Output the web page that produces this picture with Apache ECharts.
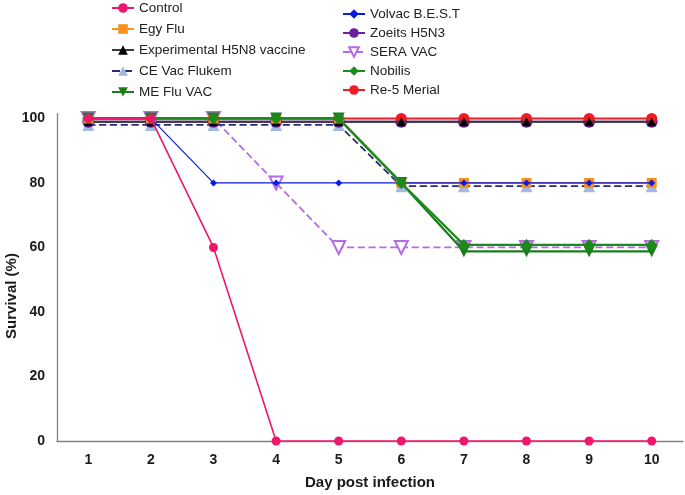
<!DOCTYPE html>
<html>
<head>
<meta charset="utf-8">
<script src="https://cdn.jsdelivr.net/npm/echarts@6/dist/echarts.min.js"></script>
<style>
html,body{margin:0;padding:0;background:#fff;}
#main{width:685px;height:495px;}
</style>
</head>
<body>
<div id="main"></div>
<script>
var days = ['1','2','3','4','5','6','7','8','9','10'];
var yTicks = [0, 20, 40, 60, 80, 100];

var control      = [100, 100, 60, 0, 0, 0, 0, 0, 0, 0];
var egyFlu       = [100, 100, 100, 100, 100, 80, 80, 80, 80, 80];
var experimental = [99, 99, 99, 99, 99, 99, 99, 99, 99, 99];
var ceVac        = [98, 98, 98, 98, 98, 79, 79, 79, 79, 79];
var meFlu        = [100, 100, 100, 100, 100, 80, 58.8, 58.8, 58.8, 58.8];
var volvac       = [100, 100, 80, 80, 80, 80, 80, 80, 80, 80];
var zoeits       = [99, 99, 99, 99, 99, 99, 99, 99, 99, 99];
var seraVac      = [100, 100, 100, 80, 60, 60, 60, 60, 60, 60];
var nobilis      = [100, 100, 100, 100, 100, 80, 60.8, 60.8, 60.8, 60.8];
var re5          = [100, 100, 100, 100, 100, 100, 100, 100, 100, 100];

var FONT = 'Liberation Sans, Arial, sans-serif';

function mk(name, data, color, symbol, size, opts) {
  opts = opts || {};
  return {
    name: name,
    type: 'line',
    data: data,
    symbol: symbol,
    symbolSize: size,
    symbolRotate: opts.rotate || 0,
    showAllSymbol: true,
    z: opts.z || 2,
    lineStyle: {color: opts.lineColor || color, width: opts.width || 2, type: opts.dash ? 'dashed' : 'solid'},
    itemStyle: {color: opts.fill || color, borderColor: opts.border || color, borderWidth: opts.bw || 0},
    emphasis: {disabled: true}
  };
}

var series = [
  mk('SERA VAC', seraVac, '#b56be3', 'triangle', 13, {rotate: 180, dash: true, width: 1.8, fill: '#ffffff', border: '#b56be3', bw: 2, z: 2}),
  mk('CE Vac Flukem', ceVac, '#2a2a78', 'triangle', 12, {dash: true, width: 1.8, fill: '#a4b9df', border: '#a4b9df', bw: 0, z: 3}),
  mk('Zoeits H5N3', zoeits, '#6b1f9c', 'circle', 12, {z: 4}),
  mk('Re-5 Merial', re5, '#ee1c25', 'circle', 11, {z: 5}),
  mk('Experimental H5N8 vaccine', experimental, '#3a3a3a', 'triangle', 9, {fill: '#000000', z: 6}),
  mk('Egy Flu', egyFlu, '#f7901e', 'rect', 10, {z: 7}),
  mk('Volvac B.E.S.T', volvac, '#0a1ae6', 'diamond', 7, {width: 1.2, z: 8}),
  mk('ME Flu VAC', meFlu, '#1b7d1b', 'triangle', 12, {rotate: 180, width: 2.2, z: 9}),
  mk('Nobilis', nobilis, '#1e8a1e', 'diamond', 12, {width: 2.2, z: 10}),
  mk('Control', control, '#f0166e', 'circle', 9, {width: 1.6, z: 11})
];

var chart = echarts.init(document.getElementById('main'));
chart.setOption({
  animation: false,
  backgroundColor: '#ffffff',
  textStyle: {fontFamily: FONT},
  legend: [
    {
      data: ['Control', 'Egy Flu', 'Experimental H5N8 vaccine', 'CE Vac Flukem', 'ME Flu VAC'],
      orient: 'vertical', left: 106, top: -4,
      itemWidth: 22, itemHeight: 12, itemGap: 7,
      textStyle: {fontSize: 13.5, color: '#222', fontFamily: FONT},
      selectedMode: false
    },
    {
      data: ['Volvac B.E.S.T', 'Zoeits H5N3', 'SERA VAC', 'Nobilis', 'Re-5 Merial'],
      orient: 'vertical', left: 337, top: 2,
      itemWidth: 22, itemHeight: 12, itemGap: 5,
      textStyle: {fontSize: 13.5, color: '#222', fontFamily: FONT},
      selectedMode: false
    }
  ],
  grid: {left: 57, right: 2, top: 113.6, bottom: 51, containLabel: false},
  xAxis: {
    type: 'category',
    data: days,
    boundaryGap: true,
    axisLine: {lineStyle: {color: '#808080', width: 1.3}},
    axisTick: {show: false},
    axisLabel: {fontSize: 14, fontWeight: 'bold', color: '#1a1a1a', margin: 12, fontFamily: FONT},
    name: 'Day post infection',
    nameLocation: 'middle',
    nameGap: 34,
    nameTextStyle: {fontSize: 15, fontWeight: 'bold', color: '#1a1a1a', fontFamily: FONT}
  },
  yAxis: {
    type: 'value',
    min: 0, max: 101.5, interval: 20,
    axisLine: {show: true, lineStyle: {color: '#808080', width: 1.3}},
    axisTick: {show: false},
    splitLine: {show: false},
    axisLabel: {
      fontSize: 14, fontWeight: 'bold', color: '#1a1a1a', margin: 12, fontFamily: FONT,
      formatter: function (v) { return yTicks.indexOf(v) >= 0 ? String(v) : ''; }
    }
  },
  graphic: [{
    type: 'text',
    x: 12, y: 296,
    rotation: Math.PI / 2,
    style: {text: 'Survival (%)', fill: '#1a1a1a', font: 'bold 15px ' + FONT, textAlign: 'center', textVerticalAlign: 'middle'}
  }],
  series: series
});
</script>
</body>
</html>
